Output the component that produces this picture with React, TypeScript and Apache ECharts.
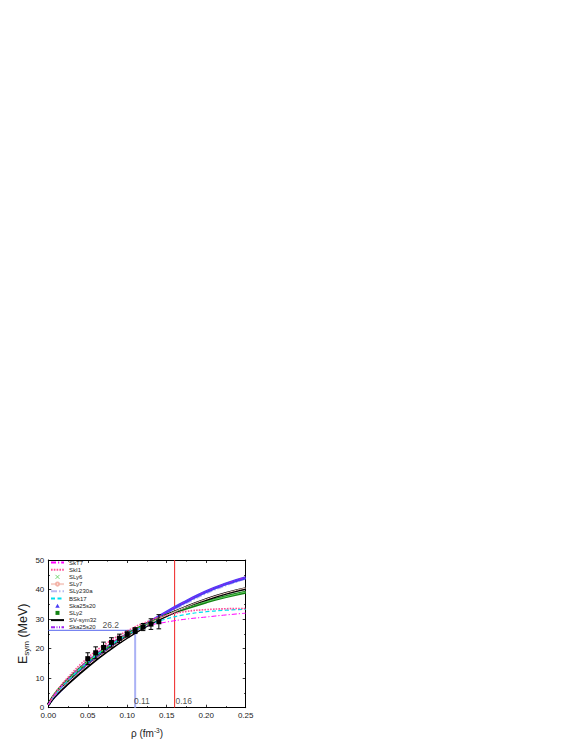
import React, { useEffect, useRef } from "react";
import * as echarts from "echarts";

// Density grid (fm^-3) used for all model curves
const rhoGrid = [0, 0.005, 0.0125, 0.025, 0.05, 0.075, 0.1, 0.125, 0.15, 0.175, 0.2, 0.225, 0.25];

// Symmetry energy curves (MeV)
const skT7 = [1, 3.2, 5.8, 9.6, 16.0, 21.0, 25.0, 27.6, 29.0, 30.0, 30.7, 31.4, 32.0];
const skI1 = [1, 3.4, 6.3, 10.3, 16.9, 22.0, 26.0, 29.1, 31.3, 32.6, 33.2, 33.5, 33.6];
const sLy6 = [1, 3.2, 5.8, 9.4, 15.6, 20.6, 24.8, 28.3, 31.3, 33.8, 35.9, 37.6, 39.2];
const sLy7 = [1, 3.0, 5.3, 8.5, 14.3, 19.4, 23.9, 27.9, 31.3, 34.2, 36.7, 38.8, 40.5];
const sLy230a = [1, 2.9, 5.0, 8.3, 14.3, 19.4, 24.0, 28.2, 32.1, 35.6, 38.9, 41.6, 43.8];
const bSk17 = [1, 3.1, 5.6, 9.2, 15.4, 20.5, 24.6, 27.8, 30.1, 31.6, 32.5, 33.0, 33.3];
const ska25s20 = [1, 2.9, 5.1, 8.4, 14.5, 19.6, 24.2, 28.4, 32.4, 36.0, 39.3, 41.9, 44.0];
const sLy2 = [1, 3.2, 5.9, 9.5, 15.6, 20.6, 24.8, 28.4, 31.3, 33.7, 35.8, 37.6, 39.1];
const svSym32 = [1, 2.9, 5.1, 8.2, 14.0, 19.2, 23.8, 27.8, 31.2, 34.1, 36.6, 38.7, 40.3];
const ska25s20b = [1, 3.0, 5.2, 8.6, 14.7, 19.8, 24.4, 28.6, 32.5, 36.1, 39.4, 42.0, 44.2];

// Experimental points with error bars
const expRho = [0.05, 0.06, 0.07, 0.08, 0.09, 0.1, 0.11, 0.12, 0.13, 0.14];
const expE = [16.6, 18.6, 20.4, 22.1, 23.5, 24.9, 26.1, 27.3, 28.3, 29.1];
const expErr = [2.0, 2.0, 1.8, 1.6, 1.4, 1.0, 1.0, 1.2, 1.8, 2.4];

// Reference lines
const hLine = [[0, 26.2], [0.11, 26.2]];
const vLine011 = [[0.11, 0], [0.11, 26.2]];
const vLine016 = [[0.16, 0], [0.16, 50]];

// Annotations
const annotations = [
  [0.079, 28.0, "26.2"],
  [0.1185, 2.3, "0.11"],
  [0.1715, 2.3, "0.16"],
];

// Axis ticks
const xTicks = { min: 0, max: 0.25, interval: 0.05 };
const yTicks = { min: 0, max: 50, interval: 10 };

const pair = (ys: number[]) => rhoGrid.map((x, i) => [x, ys[i]]);

const crossPath = "path://M0,0L10,10M10,0L0,10";
const triPath = "path://M5,0L10,9L0,9Z";
const sqPath = "path://M0,0L10,0L10,10L0,10Z";

export default function App() {
  const ref = useRef<HTMLDivElement>(null);
  useEffect(() => {
    if (!ref.current) return;
    const chart = echarts.init(ref.current, null, { renderer: "svg" });
    const font = "Liberation Sans, Arial, sans-serif";
    const axisCommon = {
      axisLine: { show: true, onZero: false, lineStyle: { color: "#000", width: 1 } },
      axisTick: { show: true, inside: true, length: 3, lineStyle: { color: "#000", width: 0.8 } },
      minorTick: { show: true, splitNumber: 2, length: 1.6, lineStyle: { color: "#000", width: 0.8 } },
      splitLine: { show: false },
    };
    const lineSeries = (name: string, ys: number[], color: string, width: number, type: any, z = 2, extra: any = {}) => ({
      type: "line",
      name,
      data: pair(ys),
      smooth: true,
      showSymbol: false,
      symbol: "none",
      lineStyle: { color, width, type },
      itemStyle: { color },
      z,
      ...extra,
    });
    const option: any = {
      animation: false,
      backgroundColor: "#fff",
      textStyle: { fontFamily: font },
      grid: { left: 48.3, top: 560, width: 197.4, height: 147.7 },
      legend: {
        orient: "vertical",
        left: 50,
        top: 559.5,
        padding: 0,
        itemWidth: 13,
        itemHeight: 4,
        itemGap: 1.2,
        itemStyle: { opacity: 0 },
        textStyle: { fontSize: 6, color: "#222", fontFamily: font, lineHeight: 6 },
        formatter: (n: string) => (n === "Ska25s20 " ? "Ska25s20" : n),
        data: [
          { name: "SkT7" },
          { name: "SkI1" },
          { name: "SLy6", icon: crossPath, itemStyle: { opacity: 1, color: "#fff", borderColor: "#5c5", borderWidth: 0.8 } },
          { name: "SLy7", itemStyle: { opacity: 1 } },
          { name: "SLy230a" },
          { name: "BSk17" },
          { name: "Ska25s20", icon: triPath, itemStyle: { opacity: 1, color: "#4a3cf5" } },
          { name: "SLy2", icon: sqPath, itemStyle: { opacity: 1, color: "#128212" } },
          { name: "SV-sym32" },
          { name: "Ska25s20 " },
        ],
      },
      xAxis: [
        {
          type: "value",
          position: "bottom",
          ...xTicks,
          ...axisCommon,
          name: "{a|ρ (fm}{s|-3}{a|)}",
          nameLocation: "middle",
          nameGap: 19,
          nameTextStyle: {
            rich: {
              a: { fontSize: 10, color: "#222", fontFamily: font, lineHeight: 13 },
              s: { fontSize: 6.5, color: "#222", fontFamily: font, verticalAlign: "top", lineHeight: 9 },
            },
          },
          axisLabel: { fontSize: 8, color: "#222", margin: 4, formatter: (v: number) => v.toFixed(2) },
        },
        {
          type: "value",
          position: "top",
          ...xTicks,
          ...axisCommon,
          axisLabel: { show: false },
        },
      ],
      yAxis: [
        {
          type: "value",
          position: "left",
          ...yTicks,
          ...axisCommon,
          name: "{a|E}{s|sym}{a| (MeV)}",
          nameLocation: "middle",
          nameGap: 18,
          nameRotate: 90,
          nameTextStyle: {
            rich: {
              a: { fontSize: 12.5, color: "#222", fontFamily: font, lineHeight: 15 },
              s: { fontSize: 8, color: "#222", fontFamily: font, verticalAlign: "bottom", lineHeight: 11 },
            },
          },
          axisLabel: { fontSize: 8, color: "#222", margin: 4 },
        },
        {
          type: "value",
          position: "right",
          ...yTicks,
          ...axisCommon,
          axisLabel: { show: false },
        },
      ],
      series: [
        lineSeries("SLy230a", sLy230a, "#b9b9f2", 3, [6, 2, 1.5, 2], 2),
        lineSeries("Ska25s20", ska25s20, "#4a3cf5", 3, "solid", 3),
        lineSeries("Ska25s20 ", ska25s20b, "#a020f0", 1, [4, 1.5, 1, 1.5, 1, 1.5], 4),
        lineSeries("SLy2", sLy2, "#128212", 3, "solid", 3),
        lineSeries("SLy6", sLy6, "#6c6", 1, "solid", 4),
        lineSeries("SV-sym32", svSym32, "#000", 2.8, "solid", 3),
        lineSeries("SLy7", sLy7, "#f4b4a8", 1, "solid", 5, {
          symbol: "emptyCircle",
          symbolSize: 3,
          lineStyle: { color: "#f6d0c8", width: 1 },
        }),
        lineSeries("BSk17", bSk17, "#00e0ee", 1.2, [4, 2.5], 5),
        lineSeries("SkI1", skI1, "#ff4f9a", 1.6, [1.6, 1.2], 5),
        lineSeries("SkT7", skT7, "#f0f", 1, [5, 2, 1.2, 2], 5),
        {
          type: "line",
          name: "hline",
          data: hLine,
          symbol: "none",
          lineStyle: { color: "#5566ee", width: 1 },
          z: 1,
        },
        {
          type: "line",
          name: "v011",
          data: vLine011,
          symbol: "none",
          lineStyle: { color: "#aab2f5", width: 2 },
          z: 1,
        },
        {
          type: "line",
          name: "v016",
          data: vLine016,
          symbol: "none",
          lineStyle: { color: "#ee2222", width: 1 },
          z: 1,
        },
        {
          type: "custom",
          name: "exp",
          data: expRho.map((x, i) => [x, expE[i], expErr[i]]),
          z: 10,
          renderItem: (params: any, api: any) => {
            const x = api.value(0);
            const y = api.value(1);
            const e = api.value(2);
            const top = api.coord([x, y + e]);
            const bot = api.coord([x, y - e]);
            const c = api.coord([x, y]);
            const w = 2.3;
            const st = { stroke: "#000", lineWidth: 1 };
            return {
              type: "group",
              children: [
                { type: "line", shape: { x1: top[0], y1: top[1], x2: bot[0], y2: bot[1] }, style: st },
                { type: "line", shape: { x1: top[0] - w, y1: top[1], x2: top[0] + w, y2: top[1] }, style: st },
                { type: "line", shape: { x1: bot[0] - w, y1: bot[1], x2: bot[0] + w, y2: bot[1] }, style: st },
                { type: "rect", shape: { x: c[0] - 2.5, y: c[1] - 2.5, width: 5, height: 5 }, style: { fill: "#000" } },
              ],
            };
          },
        },
        {
          type: "scatter",
          name: "labels",
          data: annotations,
          symbolSize: 0,
          z: 11,
          label: {
            show: true,
            position: "inside",
            fontSize: 8.5,
            color: "#222",
            fontFamily: font,
            formatter: (p: any) => p.value[2],
          },
        },
      ],
    };
    chart.setOption(option);
    return () => chart.dispose();
  }, []);
  return <div ref={ref} style={{ position: "fixed", left: 0, top: 0, width: 581, height: 752 }} />;
}
